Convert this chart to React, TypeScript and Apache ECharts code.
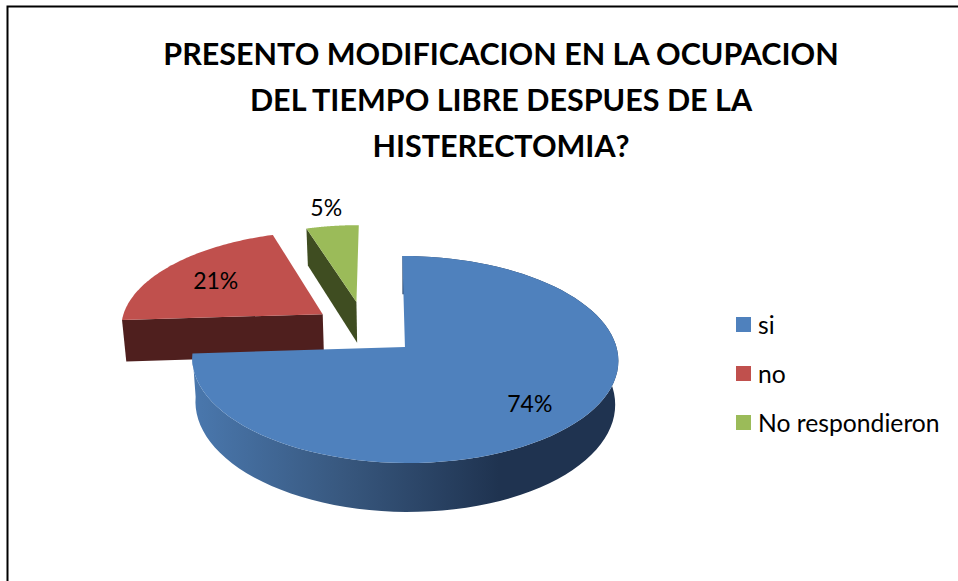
import React, { useEffect, useRef } from "react";
import * as echarts from "echarts";

const categories = ["si", "no", "No respondieron"];
const values = [74, 21, 5];
const titleLines = [
  "PRESENTO MODIFICACION EN LA OCUPACION",
  "DEL TIEMPO LIBRE DESPUES DE LA",
  "HISTERECTOMIA?",
];
const topColors = ["#4f81bd", "#c0504d", "#9bbb59"];
const wallColors = ["#1f3350", "#4f1f1e", "#3f4d21"];

const CX = 406, CY = 347, RX = 211.5, RY = 102, K = 0.1207, DEPTH = 43, BASE_SCALE = 0.985, SKEW = 3;
// slice placement on the unit disc: explode offset, radius, label radius
const offsetX = [-0.005, -0.405, -0.241];
const offsetY = [0, 0.335, 0.466];
const radius = [1, 0.98, 0.93];
const labelRadius = [0.75, 0.68, 1.2];

const total = values.reduce((a, b) => a + b, 0);
const startAngles = values.map((_, i) =>
  values.slice(0, i).reduce((a, b) => a + b, 0) / total * Math.PI * 2);

function project(u: number, v: number, base: boolean): number[] {
  const w = 1 + K * v;
  const s = base ? BASE_SCALE : 1;
  return [CX + (RX * s * u - SKEW * v) / w, CY - (RY * v) / w + (base ? DEPTH / w : 0)];
}

function slicePoint(i: number, angle: number, r: number, base: boolean) {
  return project(offsetX[i] + r * Math.sin(angle), offsetY[i] + r * Math.cos(angle), base);
}

function arc(i: number, from: number, to: number, base: boolean) {
  const pts: number[][] = [];
  const n = 90;
  for (let j = 0; j <= n; j++) pts.push(slicePoint(i, from + ((to - from) * j) / n, radius[i], base));
  return pts;
}

function makeSeries(i: number) {
  const a0 = startAngles[i];
  const a1 = a0 + (values[i] / total) * Math.PI * 2;
  const mid = (a0 + a1) / 2;
  return {
    type: "custom",
    name: categories[i],
    coordinateSystem: "none",
    z: 5 - i,
    silent: true,
    itemStyle: { color: topColors[i] },
    data: [{ name: categories[i], value: values[i] }],
    renderItem: (_p: any, api: any) => {
      const v = api.value(0);
      const apexT = slicePoint(i, 0, 0, false);
      const apexB = slicePoint(i, 0, 0, true);
      const topArc = arc(i, a0, a1, false);
      const baseArc = arc(i, a0, a1, true);
      const lab = slicePoint(i, mid, labelRadius[i], false);
      const children: any[] = [];
      if (i === 0) {
        children.push({
          type: "polygon",
          shape: { points: [...topArc, ...baseArc.slice().reverse()] },
          style: {
            fill: new echarts.graphic.LinearGradient(0, 0, 1, 0, [
              { offset: 0, color: "#4a78ae" },
              { offset: 0.35, color: "#38587f" },
              { offset: 0.72, color: "#1f3350" },
              { offset: 1, color: "#1f3350" },
            ]),
          },
        });
      } else {
        children.push({
          type: "polygon",
          shape: { points: [apexT, slicePoint(i, a0, radius[i], false), slicePoint(i, a0, radius[i], true), apexB] },
          style: { fill: wallColors[i] },
        });
      }
      children.push({ type: "polygon", shape: { points: [apexT, ...topArc] }, style: { fill: topColors[i] } });
      children.push({
        type: "text",
        x: lab[0],
        y: lab[1],
        style: { text: `${v}%`, fill: "#000", font: "23px Lato", align: "center", verticalAlign: "middle" },
      });
      return { type: "group", children };
    },
  };
}

export default function App() {
  const ref = useRef<HTMLDivElement>(null);
  useEffect(() => {
    const chart = echarts.init(ref.current!, undefined, { renderer: "svg" });
    chart.setOption({
      animation: false,
      backgroundColor: "#fff",
      title: {
        text: titleLines.join("\n"),
        left: 496,
        top: 25,
        textAlign: "center",
        textStyle: { fontFamily: "Lato", fontWeight: "bold", fontSize: 30.5, lineHeight: 46, color: "#000" },
      },
      legend: {
        data: categories,
        orient: "vertical",
        left: 736,
        top: 312,
        padding: 0,
        itemWidth: 15,
        itemHeight: 15,
        itemGap: 24,
        icon: "rect",
        selectedMode: false,
        textStyle: { fontFamily: "Lato", fontSize: 24.7, color: "#000", padding: [0, 0, 0, 2] },
      },
      graphic: [
        {
          type: "polyline",
          shape: { points: [[7.5, 581], [7.5, 6.5], [958, 6.5]] },
          style: { stroke: "#000", lineWidth: 2, fill: "none" },
          silent: true,
        },
      ],
      series: [makeSeries(2), makeSeries(1), makeSeries(0)],
    });
    return () => chart.dispose();
  }, []);
  return <div ref={ref} style={{ position: "fixed", left: 0, top: 0, width: 958, height: 581 }} />;
}
